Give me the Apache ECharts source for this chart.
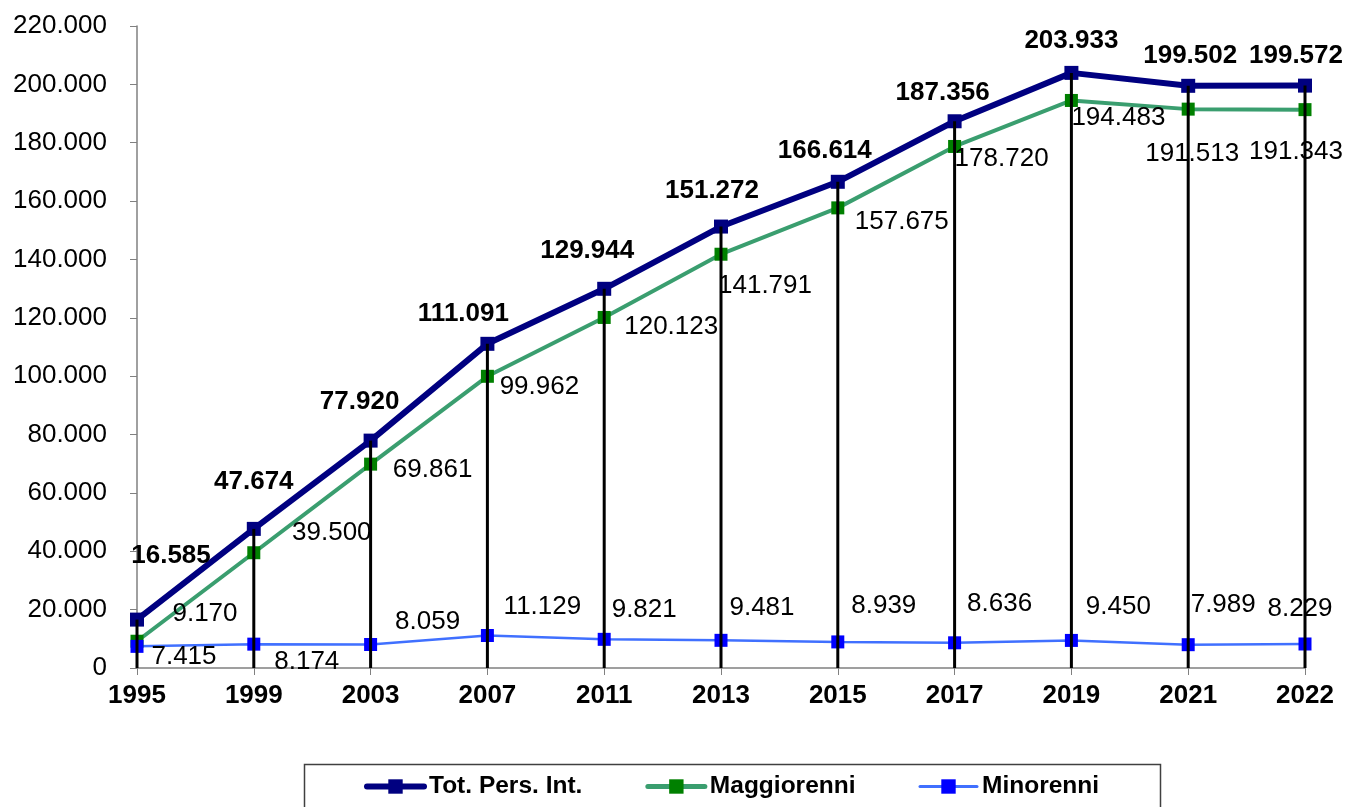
<!DOCTYPE html>
<html>
<head>
<meta charset="utf-8">
<title>Tot. Pers. Int.</title>
<script src="https://cdn.jsdelivr.net/npm/echarts@6/dist/echarts.min.js"></script>
<style>
  html, body { margin: 0; padding: 0; background: #fff; }
  #chart { width: 1349px; height: 807px; }
</style>
</head>
<body>
<div id="chart"></div>
<script>
// dati
const anni = ['1995', '1999', '2003', '2007', '2011', '2013', '2015', '2017', '2019', '2021', '2022']
const totale = [16585, 47674, 77920, 111091, 129944, 151272, 166614, 187356, 203933, 199502, 199572]
const maggiorenni = [9170, 39500, 69861, 99962, 120123, 141791, 157675, 178720, 194483, 191513, 191343]
const minorenni = [7415, 8174, 8059, 11129, 9821, 9481, 8939, 8636, 9450, 7989, 8229]

// spostamento delle etichette rispetto al punto (px)
const totOffset = [[34, -64], [0, -47], [-11, -39], [-24, -30], [-17, -38], [-9, -36], [-13, -31], [-12, -28], [0, -32], [2, -30], [-9, -30]]
const magOffset = [[68, -27], [78, -20], [62, 6], [52, 11], [67, 9], [44, 32], [64, 14], [47, 12], [47, 17], [4, 45], [-9, 42]]
const minOffset = [[47, 10], [53, 18], [57, -23], [55, -29], [40, -30], [41, -33], [46, -36], [45, -39], [47, -34], [35, -40], [-5, -35]]

const FONT = 'Liberation Sans, Arial, sans-serif'

// formato italiano: 220000 -> 220.000
function fmt(v) {
  return String(v).replace(/\B(?=(\d{3})+(?!\d))/g, '.')
}

function withLabels(values, offsets) {
  return values.map((v, i) => ({ value: v, label: { offset: offsets[i] } }))
}

const chart = echarts.init(document.getElementById('chart'))

chart.setOption({
  animation: false,
  backgroundColor: '#fff',
  textStyle: { fontFamily: FONT },
  grid: { left: 137, right: 44, top: 26, bottom: 139, containLabel: false },
  graphic: [{
    type: 'rect',
    left: 302,
    top: 762,
    shape: { width: 856, height: 70 },
    style: { fill: 'none', stroke: '#404040', lineWidth: 1.5 },
    silent: true
  }],
  legend: {
    data: [
      { name: 'Tot. Pers. Int.', lineStyle: { width: 6, cap: 'round' } },
      { name: 'Maggiorenni', lineStyle: { width: 5, cap: 'round' } },
      { name: 'Minorenni', lineStyle: { width: 3, cap: 'round' } }
    ],
    left: 364,
    top: 774,
    padding: 0,
    itemWidth: 57,
    itemHeight: 18,
    itemGap: 63,
    textStyle: { fontFamily: FONT, fontSize: 24.5, fontWeight: 'bold', color: '#000' }
  },
  xAxis: {
    type: 'category',
    data: anni,
    boundaryGap: false,
    axisLine: { lineStyle: { color: '#808080', width: 1.5 } },
    axisTick: { alignWithLabel: true, length: 7, lineStyle: { color: '#808080' } },
    axisLabel: { margin: 15, fontFamily: FONT, fontSize: 26, fontWeight: 'bold', color: '#000' },
    splitLine: { show: false }
  },
  yAxis: {
    type: 'value',
    min: 0,
    max: 220000,
    interval: 20000,
    axisLine: { show: true, lineStyle: { color: '#808080', width: 1.5 } },
    axisTick: { show: true, length: 7, lineStyle: { color: '#808080' } },
    axisLabel: { margin: 30, fontFamily: FONT, fontSize: 26, color: '#000', formatter: fmt },
    splitLine: { show: false }
  },
  series: [
    {
      // linee verticali di riferimento
      name: 'drop',
      type: 'bar',
      data: totale,
      barWidth: 3,
      clip: false,
      z: 5,
      silent: true,
      itemStyle: { color: '#000' },
      emphasis: { disabled: true }
    },
    {
      name: 'Tot. Pers. Int.',
      type: 'line',
      data: withLabels(totale, totOffset),
      symbol: 'rect',
      symbolSize: 14,
      showAllSymbol: true,
      z: 4,
      lineStyle: { color: '#000080', width: 6 },
      itemStyle: { color: '#000080' },
      label: {
        show: true,
        position: 'inside',
        formatter: p => fmt(p.value),
        fontFamily: FONT,
        fontSize: 26,
        fontWeight: 'bold',
        color: '#000'
      },
      emphasis: { disabled: true }
    },
    {
      name: 'Maggiorenni',
      type: 'line',
      data: withLabels(maggiorenni, magOffset),
      symbol: 'rect',
      symbolSize: 13,
      showAllSymbol: true,
      z: 3,
      lineStyle: { color: '#3a9e6f', width: 4 },
      itemStyle: { color: '#008000' },
      label: {
        show: true,
        position: 'inside',
        formatter: p => fmt(p.value),
        fontFamily: FONT,
        fontSize: 26,
        color: '#000'
      },
      emphasis: { disabled: true }
    },
    {
      name: 'Minorenni',
      type: 'line',
      data: withLabels(minorenni, minOffset),
      symbol: 'rect',
      symbolSize: 13,
      showAllSymbol: true,
      z: 3,
      lineStyle: { color: '#4070ff', width: 2.5 },
      itemStyle: { color: '#0000ff' },
      label: {
        show: true,
        position: 'inside',
        formatter: p => fmt(p.value),
        fontFamily: FONT,
        fontSize: 26,
        color: '#000'
      },
      emphasis: { disabled: true }
    }
  ]
})
</script>
</body>
</html>
